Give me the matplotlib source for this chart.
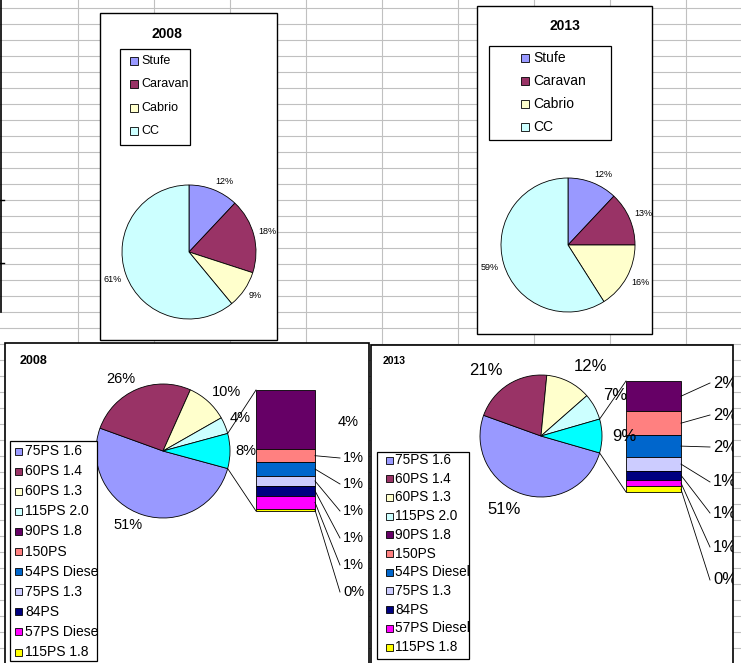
import numpy as np
import matplotlib.pyplot as plt
from matplotlib.patches import Rectangle
from matplotlib.transforms import Bbox, TransformedBbox

# data
top_labels = ["Stufe", "Caravan", "Cabrio", "CC"]
top_2008 = [12, 18, 9, 61]
top_2013 = [12, 13, 16, 59]

motor_labels = ["75PS 1.6", "60PS 1.4", "60PS 1.3", "115PS 2.0", "90PS 1.8", "150PS",
                "54PS Diesel", "75PS 1.3", "84PS", "57PS Diesel", "115PS 1.8"]
motor_2008 = [51, 26, 10, 4, 4.1, 0.9, 0.95, 0.7, 0.67, 0.92, 0.14]
motor_2013 = [51, 21, 12, 7, 2.45, 1.9, 1.8, 1.1, 0.7, 0.55, 0.45]
n_main = 4  # the rest goes into the bar ("other" slice)

top_colors = ["#9999FF", "#993366", "#FFFFCC", "#CCFFFF"]
motor_colors = ["#9999FF", "#993366", "#FFFFCC", "#CCFFFF", "#660066", "#FF8080",
                "#0066CC", "#CCCCFF", "#000080", "#FF00FF", "#FFFF00"]
other_color = "#00FFFF"
grid_color = "#c0c0c0"

W, H = 741, 663
plt.rcParams['font.family'] = ['Liberation Sans', 'DejaVu Sans']

fig = plt.figure(figsize=(W / 100, H / 100), dpi=100)
ax = fig.add_axes([0, 0, 1, 1])
renderer = fig.canvas.get_renderer()


def Y(py):
    # pixel row from top -> data y
    return H - py


def clip_for(x0, y0, x1, y1):
    return TransformedBbox(Bbox.from_extents(x0, Y(y1), x1, Y(y0)), ax.transData)


def put_text(x, y, s, clip, **kw):
    t = ax.text(x, Y(y), s, zorder=5, **kw)
    t.set_clip_box(clip)
    t.set_clip_on(True)
    return t


def box(x0, y0, x1, y1, lw=1.0, z=1):
    ax.add_patch(Rectangle((x0, Y(y1)), x1 - x0, y1 - y0, facecolor="white",
                           edgecolor="black", linewidth=lw, zorder=z))
    return clip_for(x0, y0, x1, y1)


def legend(labels, colors, x0, y0, x1, y1, y_first, step, px, tx, psize, fs):
    clip = box(x0, y0, x1, y1, lw=0.9, z=3)
    for i, (lab, c) in enumerate(zip(labels, colors)):
        yy = y_first + i * step
        ax.add_patch(Rectangle((px - psize / 2, Y(yy) - psize / 2), psize, psize,
                               facecolor=c, edgecolor="black", linewidth=0.6, zorder=4))
        put_text(tx, yy, lab, clip, ha="left", va="center", fontsize=fs)


def pie_labels(wedges, vals, total, cx, cy, r, gap, fs, clip):
    # excel style "outside end": label box pushed out from the rim
    half_h = fs * 100 / 72 * 0.716 / 2
    for w, v in zip(wedges, vals):
        w.set_zorder(2)
        mid = np.deg2rad((w.theta1 + w.theta2) / 2)
        c, s = np.cos(mid), np.sin(mid)
        t = put_text(0, 0, f"{v / total * 100:.0f}%", clip, ha="center", va="center",
                     fontsize=fs)
        half_w = t.get_window_extent(renderer).width / 2
        t.set_position((cx + (r + gap) * c + half_w * np.clip(3 * c, -1, 1),
                        Y(cy) + (r + gap) * s + half_h * np.clip(3 * s, -1, 1)))


# spreadsheet grid
for gx in np.arange(77, W, 76):
    ax.plot([gx + 0.5, gx + 0.5], [0, H], color=grid_color, lw=0.8, zorder=0)
for gy in np.arange(7, H, 16):
    ax.plot([0, W], [Y(gy) - 0.5, Y(gy) - 0.5], color=grid_color, lw=0.8, zorder=0)
ax.plot([1, 1], [Y(0), Y(312)], color="black", lw=1.2, zorder=0.5)
for ty in [200, 263]:
    ax.plot([0, 4], [Y(ty), Y(ty)], color="black", lw=1.0, zorder=0.5)


def simple_chart(vals, title, frame, title_xy, leg, cx, cy, r):
    clip = box(*frame)
    put_text(title_xy[0], title_xy[1], title, clip, ha="center", va="center",
             fontsize=10, fontweight="bold")
    legend(top_labels, top_colors, *leg)
    wedges, _ = ax.pie(vals, colors=top_colors, startangle=90, counterclock=False,
                       center=(cx, Y(cy)), radius=r, frame=True,
                       wedgeprops=dict(edgecolor="black", linewidth=0.6))
    pie_labels(wedges, vals, sum(vals), cx, cy, r, 5, 6.5, clip)


simple_chart(top_2008, "2008", (100, 13, 277, 340), (167, 34),
             (120, 49, 190, 145, 61, 23.3, 134, 141, 8, 9), 189, 252, 67)
simple_chart(top_2013, "2013", (477, 6, 652, 334), (565, 26),
             (489, 46, 611, 140, 58, 23, 524.5, 533, 8, 10), 568, 245, 67)


def bar_of_pie(vals, title, frame, title_xy, title_fs, cx, cy, r, gap, fs,
               bar, lab_ys, leaders, lead_x, text_x, leg):
    clip = box(*frame, lw=1.2)
    put_text(title_xy[0], title_xy[1], title, clip, ha="left", va="center",
             fontsize=title_fs, fontweight="bold")
    main = vals[:n_main]
    rest = np.array(vals[n_main:])
    total = sum(vals)
    other = rest.sum()
    o_deg = other / total * 360
    pie_vals = main + [other]
    wedges, _ = ax.pie(pie_vals, colors=motor_colors[:n_main] + [other_color],
                       startangle=-o_deg / 2, counterclock=False,
                       center=(cx, Y(cy)), radius=r, frame=True,
                       wedgeprops=dict(edgecolor="black", linewidth=0.6))
    pie_labels(wedges, pie_vals, total, cx, cy, r, gap, fs, clip)

    bx0, bx1, btop, bbot = bar
    scale = (bbot - btop) / other
    heights = rest * scale
    bottoms = Y(btop) - np.cumsum(heights)
    ax.bar([(bx0 + bx1) / 2] * len(rest), heights, width=bx1 - bx0, bottom=bottoms,
           color=motor_colors[n_main:], edgecolor="black", linewidth=0.6, zorder=2)

    # connector lines from the "other" slice to the bar
    a = np.deg2rad(o_deg / 2)
    ax.plot([cx + r * np.cos(a), bx0], [Y(cy) + r * np.sin(a), Y(btop)],
            color="black", lw=0.6, zorder=3)
    ax.plot([cx + r * np.cos(a), bx0], [Y(cy) - r * np.sin(a), Y(bbot)],
            color="black", lw=0.6, zorder=3)

    mids = btop + (np.cumsum(heights) - heights / 2)
    for v, m, ly, lead in zip(rest, mids, lab_ys, leaders):
        s = f"{v / total * 100:.0f}%"
        if lead:
            ax.plot([bx1, lead_x], [Y(m), Y(ly)], color="black", lw=0.6, zorder=3)
            put_text(text_x, ly, s, clip, ha="left", va="center", fontsize=fs)
        else:
            put_text(text_x - 5, ly, s, clip, ha="left", va="center", fontsize=fs)

    legend(motor_labels, motor_colors, *leg)


bar_of_pie(motor_2008, "2008", (5, 343, 369, 690), (20, 361), 9,
           163, 451, 67, 5, 10.5,
           (256, 315, 390, 511), [422, 458, 484, 511, 538, 565, 592],
           [False, True, True, True, True, True, True], 340, 343,
           (10, 441, 97, 661, 451, 20.1, 18, 25, 7, 10))
bar_of_pie(motor_2013, "2013", (371, 345, 733, 690), (383, 361), 7.5,
           541, 436, 61, 10, 12,
           (626, 681, 381, 492), [383, 415, 447, 482, 513, 547, 580],
           [True] * 7, 710, 713,
           (377, 452, 469, 659, 460, 18.7, 389, 395, 7, 9.8))

ax.set_xlim(0, W)
ax.set_ylim(0, H)
ax.set_aspect("auto")
ax.axis("off")
fig.savefig("out.png", dpi=100, facecolor="white")
